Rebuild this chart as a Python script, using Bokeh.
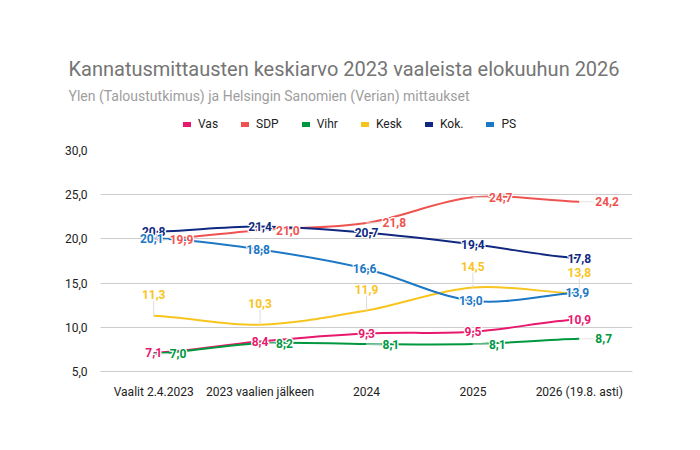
from bokeh.core.properties import value
from bokeh.embed import file_html
from bokeh.layouts import column
from bokeh.models import (FixedTicker,
                          Legend,
                          LegendItem,
                          Range1d,
                          Title)
from bokeh.plotting import figure
from bokeh.resources import INLINE

CATEGORIES = ["Vaalit 2.4.2023", "2023 vaalien jälkeen", "2024", "2025",
              "2026 (19.8. asti)"]
Y_TICKS = [5, 10, 15, 20, 25, 30]

VAS = [7.1, 8.4, 9.3, 9.5, 10.9]
SDP = [19.9, 21.0, 21.8, 24.7, 24.2]
VIHR = [7.0, 8.2, 8.1, 8.1, 8.7]
KESK = [11.3, 10.3, 11.9, 14.5, 13.8]
KOK = [20.8, 21.4, 20.7, 19.4, 17.8]
PS = [20.1, 18.8, 16.6, 13.0, 13.9]

SERIES = [("Vas", VAS), ("SDP", SDP), ("Vihr", VIHR), ("Kesk", KESK),
          ("Kok.", KOK), ("PS", PS)]

TITLE = "Kannatusmittausten keskiarvo 2023 vaaleista elokuuhun 2026"
SUBTITLE = "Ylen (Taloustutkimus) ja Helsingin Sanomien (Verian) mittaukset"

COLORS = {"Vas": "#E8186D", "SDP": "#EF5350", "Vihr": "#00983F",
          "Kesk": "#F8C41E", "Kok.": "#10287F", "PS": "#1C78C4"}

# label placement: (x_offset px, y_offset px, align)
PLACEMENT = {"Vas": (0, 0, "center"), "SDP": (16, 0, "left"),
             "Vihr": (16, 0, "left"), "Kesk": (0, -21, "center"),
             "Kok.": (0, 0, "center"), "PS": (-2, 0, "center")}

FONT = "Roboto"
FRAME_W, FRAME_H = 532, 221
PX_X = FRAME_W / 5.0
PX_Y = FRAME_H / 25.0
HEADER_H = 142


def tangents(ys):
    n = len(ys)
    m = []
    for i in range(n):
        if i == 0:
            m.append((ys[1] - ys[0]) * 0.5)
        elif i == n - 1:
            m.append((ys[-1] - ys[-2]) * 0.5)
        else:
            m.append((ys[i + 1] - ys[i - 1]) / 2.0)
    return m


def fmt(v):
    return ("%.1f" % v).replace(".", ",")


# header: title, subtitle and legend
header = figure(width=692, height=HEADER_H,
                x_range=Range1d(0, 1), y_range=Range1d(0, 1),
                output_backend="svg", toolbar_location=None,
                min_border_top=106, min_border_bottom=0,
                min_border_left=100, min_border_right=60)
header.axis.visible = False
header.grid.visible = False
header.outline_line_color = None
header.title.visible = False

header.add_layout(Title(text=SUBTITLE, align="left", offset=-32,
                        standoff=4, vertical_align="middle",
                        text_font=FONT, text_font_size="14px",
                        text_font_style="normal", text_color="#9E9E9E"),
                  "above")
header.add_layout(Title(text=TITLE, align="left", offset=-32,
                        standoff=6, vertical_align="middle",
                        text_font=FONT, text_font_size="20px",
                        text_font_style="normal", text_color="#757575"),
                  "above")

items = []
for name, ys in SERIES:
    r = header.line(x=[float("nan")], y=[float("nan")],
                    line_color=COLORS[name], line_width=5,
                    line_cap="round")
    items.append(LegendItem(label=name, renderers=[r]))
legend = Legend(items=items, orientation="horizontal",
                location=(83, HEADER_H - 131), glyph_width=8,
                glyph_height=14, label_height=14, label_width=10,
                label_standoff=7, spacing=23, padding=0, margin=0,
                border_line_color=None, background_fill_alpha=0,
                label_text_font=FONT, label_text_font_size="12px",
                label_text_color="#222222")
header.add_layout(legend, "center")

# main chart
p = figure(width=692, height=442 - HEADER_H,
           x_range=Range1d(-0.5, 4.5), y_range=Range1d(5, 30),
           output_backend="svg", toolbar_location=None,
           min_border_left=100, min_border_right=60,
           min_border_top=150 - HEADER_H, min_border_bottom=71)
p.outline_line_color = None

p.xgrid.grid_line_color = None
p.ygrid.grid_line_color = "#CCCCCC"
p.ygrid.ticker = FixedTicker(ticks=Y_TICKS)

p.yaxis.ticker = FixedTicker(ticks=Y_TICKS)
p.yaxis.major_label_overrides = {t: fmt(t) for t in Y_TICKS}
p.xaxis.ticker = FixedTicker(ticks=list(range(len(CATEGORIES))))
p.xaxis.major_label_overrides = {i: c for i, c in enumerate(CATEGORIES)}
for ax in (p.xaxis, p.yaxis):
    ax.axis_line_color = None
    ax.major_tick_line_color = None
    ax.minor_tick_line_color = None
    ax.major_label_text_font = FONT
    ax.major_label_text_font_size = "12px"
    ax.major_label_text_color = "#222222"
p.yaxis.major_label_standoff = 7
p.xaxis.major_label_standoff = 7
p.xaxis.axis_line_color = "#CCCCCC"

xs = list(range(len(CATEGORIES)))

# smoothed lines as bezier segments
for name, ys in SERIES:
    m = tangents(ys)
    p.bezier(x0=xs[:-1], y0=ys[:-1], x1=xs[1:], y1=ys[1:],
             cx0=[x + 1 / 3 for x in xs[:-1]],
             cy0=[y + t / 3 for y, t in zip(ys[:-1], m[:-1])],
             cx1=[x - 1 / 3 for x in xs[1:]],
             cy1=[y - t / 3 for y, t in zip(ys[1:], m[1:])],
             line_color=COLORS[name], line_width=2)

# leader lines
p.segment(x0=xs, y0=KESK, x1=xs, y1=[v + 15 / PX_Y for v in KESK],
          line_color="#DDDDDD", line_width=1)
for ys in (SDP, VIHR):
    p.segment(x0=xs, y0=ys, x1=[x + 15 / PX_X for x in xs], y1=ys,
              line_color="#E4E4E4", line_width=1)

# data labels with a white halo
halo = [(-1, 0), (1, 0), (0, -1), (0, 1), (-1, -1), (1, 1), (-1, 1), (1, -1)]
for name, ys in SERIES:
    dx, dy, align = PLACEMENT[name]
    labels = [fmt(v) for v in ys]
    for hx, hy in halo:
        p.text(x=xs, y=ys, text=labels, x_offset=dx + hx, y_offset=dy + hy,
               text_align=align, text_baseline="middle",
               text_font=value(FONT), text_font_style="bold",
               text_font_size="12px", text_color="white")
    p.text(x=xs, y=ys, text=labels, x_offset=dx, y_offset=dy,
           text_align=align, text_baseline="middle",
           text_font=value(FONT), text_font_style="bold",
           text_font_size="12px", text_color=COLORS[name])

open("out.html", "w").write(file_html(column(header, p), INLINE))
